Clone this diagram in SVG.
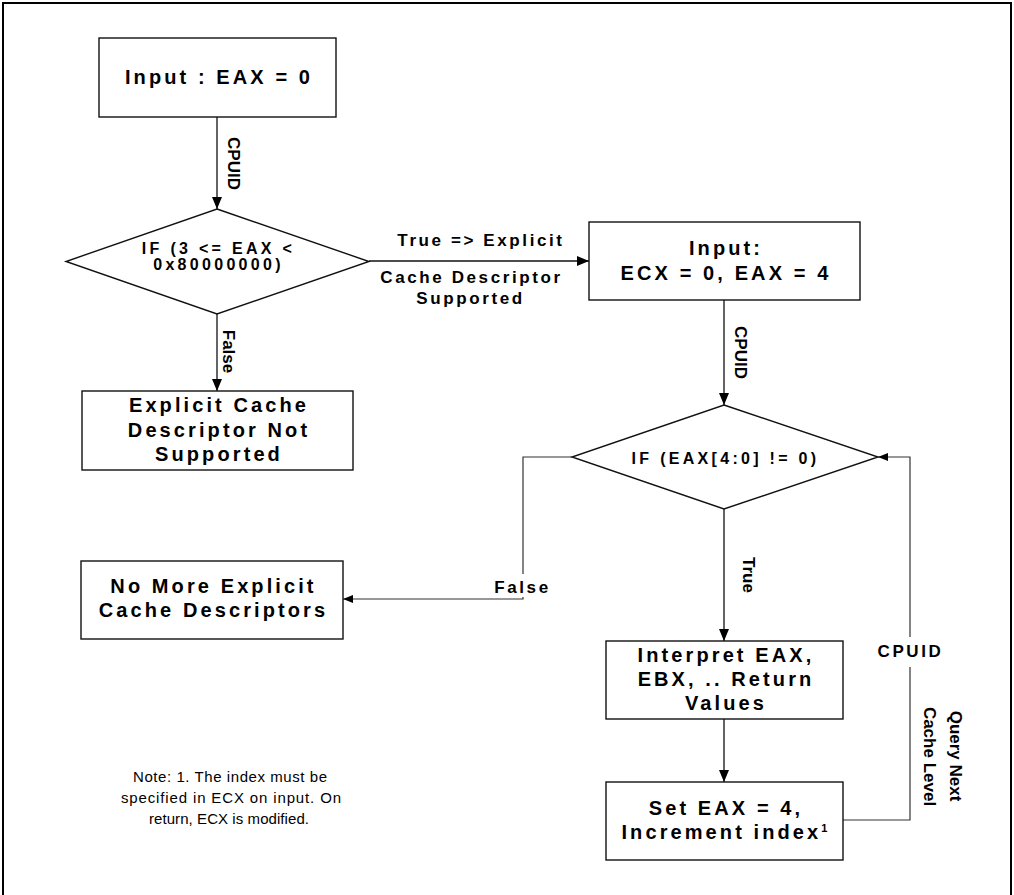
<svg xmlns="http://www.w3.org/2000/svg" width="1014" height="895" viewBox="0 0 1014 895">
<defs>
<style>
.bx{fill:#fff;stroke:#111;stroke-width:1.4}
.ln{fill:none;stroke:#111;stroke-width:1.3}
.lg{fill:none;stroke:#333;stroke-width:1.2}
.tb{font-family:"Liberation Sans",Arial,sans-serif;font-weight:bold;font-size:20px;letter-spacing:3.1px;text-anchor:middle;fill:#000}
.td{font-family:"Liberation Sans",Arial,sans-serif;font-weight:bold;font-size:16px;letter-spacing:3.3px;text-anchor:middle;fill:#000}
.tl{font-family:"Liberation Sans",Arial,sans-serif;font-weight:bold;font-size:17px;letter-spacing:2.6px;text-anchor:middle;fill:#000}
.tr{font-family:"Liberation Sans",Arial,sans-serif;font-weight:bold;font-size:17px;text-anchor:middle;fill:#000}
.tn{font-family:"Liberation Sans",Arial,sans-serif;font-size:15px;text-anchor:middle;fill:#000}
</style>
<marker id="ah" markerUnits="userSpaceOnUse" markerWidth="12" markerHeight="10" refX="12" refY="5" orient="auto">
<path d="M0,0 L12,5 L0,10 z" fill="#000"/>
</marker>
<marker id="as" markerUnits="userSpaceOnUse" markerWidth="10" markerHeight="8" refX="10" refY="4" orient="auto">
<path d="M0,0 L10,4 L0,8 z" fill="#000"/>
</marker>
</defs>
<rect x="3" y="3" width="1008" height="900" fill="#fff" stroke="#000" stroke-width="2"/>

<g id="connectors">
<line class="ln" x1="217" y1="117" x2="217" y2="209" marker-end="url(#ah)"/>
<text class="tr" transform="translate(228,163.5) rotate(90)">CPUID</text>
<line class="ln" x1="217" y1="314" x2="217" y2="391" marker-end="url(#ah)"/>
<text class="tr" transform="translate(223,351.5) rotate(90)">False</text>
<line class="ln" x1="369" y1="261" x2="589" y2="261" marker-end="url(#ah)"/>
<text class="tl" x="481" y="246">True =&gt; Explicit</text>
<text class="tl" x="471.5" y="283">Cache Descriptor</text>
<text class="tl" x="470.5" y="304">Supported</text>
<line class="ln" x1="724" y1="300" x2="724" y2="405" marker-end="url(#ah)"/>
<text class="tr" transform="translate(735,352.5) rotate(90)">CPUID</text>
<line class="ln" x1="724" y1="509" x2="724" y2="641" marker-end="url(#ah)"/>
<text class="tr" transform="translate(743,575) rotate(90)">True</text>
<line class="ln" x1="724" y1="719" x2="724" y2="782" marker-end="url(#ah)"/>
<path class="lg" d="M572,457 H523 V574"/>
<path class="lg" d="M523,597 V599 H343" marker-end="url(#as)"/>
<text class="tl" x="522.5" y="593">False</text>
<path class="lg" d="M843,820 H910 V667"/>
<path class="lg" d="M910,637 V457 H878" marker-end="url(#as)"/>
<text class="tl" x="910.5" y="657">CPUID</text>
<text class="tr" transform="translate(950,756) rotate(90)">Query Next</text>
<text class="tr" transform="translate(924,756.5) rotate(90)">Cache Level</text>
</g>

<g id="n-input0">
<rect class="bx" x="99" y="38" width="237" height="79"/>
<text class="tb" x="219" y="84">Input : EAX = 0</text>
</g>

<g id="n-if1">
<polygon class="bx" points="217,209 369,261.5 217,314 66,261.5"/>
<text class="td" x="218.5" y="254">IF (3 &lt;= EAX &lt;</text>
<text class="td" x="218.5" y="270">0x80000000)</text>
</g>

<g id="n-input4">
<rect class="bx" x="589" y="222" width="271" height="78"/>
<text class="tb" x="726" y="255">Input:</text>
<text class="tb" x="726" y="280">ECX = 0, EAX = 4</text>
</g>

<g id="n-notsupported">
<rect class="bx" x="82" y="391" width="271" height="79"/>
<text class="tb" x="219" y="412">Explicit Cache</text>
<text class="tb" x="219" y="437">Descriptor Not</text>
<text class="tb" x="219" y="461">Supported</text>
</g>

<g id="n-if2">
<polygon class="bx" points="724,405 878,457 724,509 572,457"/>
<text class="td" x="725.5" y="464">IF (EAX[4:0] != 0)</text>
</g>

<g id="n-nomore">
<rect class="bx" x="81" y="561" width="262" height="78"/>
<text class="tb" x="213.5" y="593">No More Explicit</text>
<text class="tb" x="213.5" y="617">Cache Descriptors</text>
</g>

<g id="n-interpret">
<rect class="bx" x="606" y="641" width="237" height="78"/>
<text class="tb" x="726" y="662">Interpret EAX,</text>
<text class="tb" x="726" y="686">EBX, .. Return</text>
<text class="tb" x="726" y="710">Values</text>
</g>

<g id="n-setidx">
<rect class="bx" x="606" y="782" width="237" height="78"/>
<text class="tb" x="726" y="815">Set EAX = 4,</text>
<text class="tb" x="726" y="839">Increment index<tspan font-size="11" dy="-7">1</tspan></text>
</g>

<g id="n-note">
<text class="tn" x="230" y="782" textLength="194" lengthAdjust="spacing">Note: 1. The index must be</text>
<text class="tn" x="231" y="803" textLength="220" lengthAdjust="spacing">specified in ECX on input. On</text>
<text class="tn" x="229" y="824" textLength="160" lengthAdjust="spacing">return, ECX is modified.</text>
</g>
</svg>
